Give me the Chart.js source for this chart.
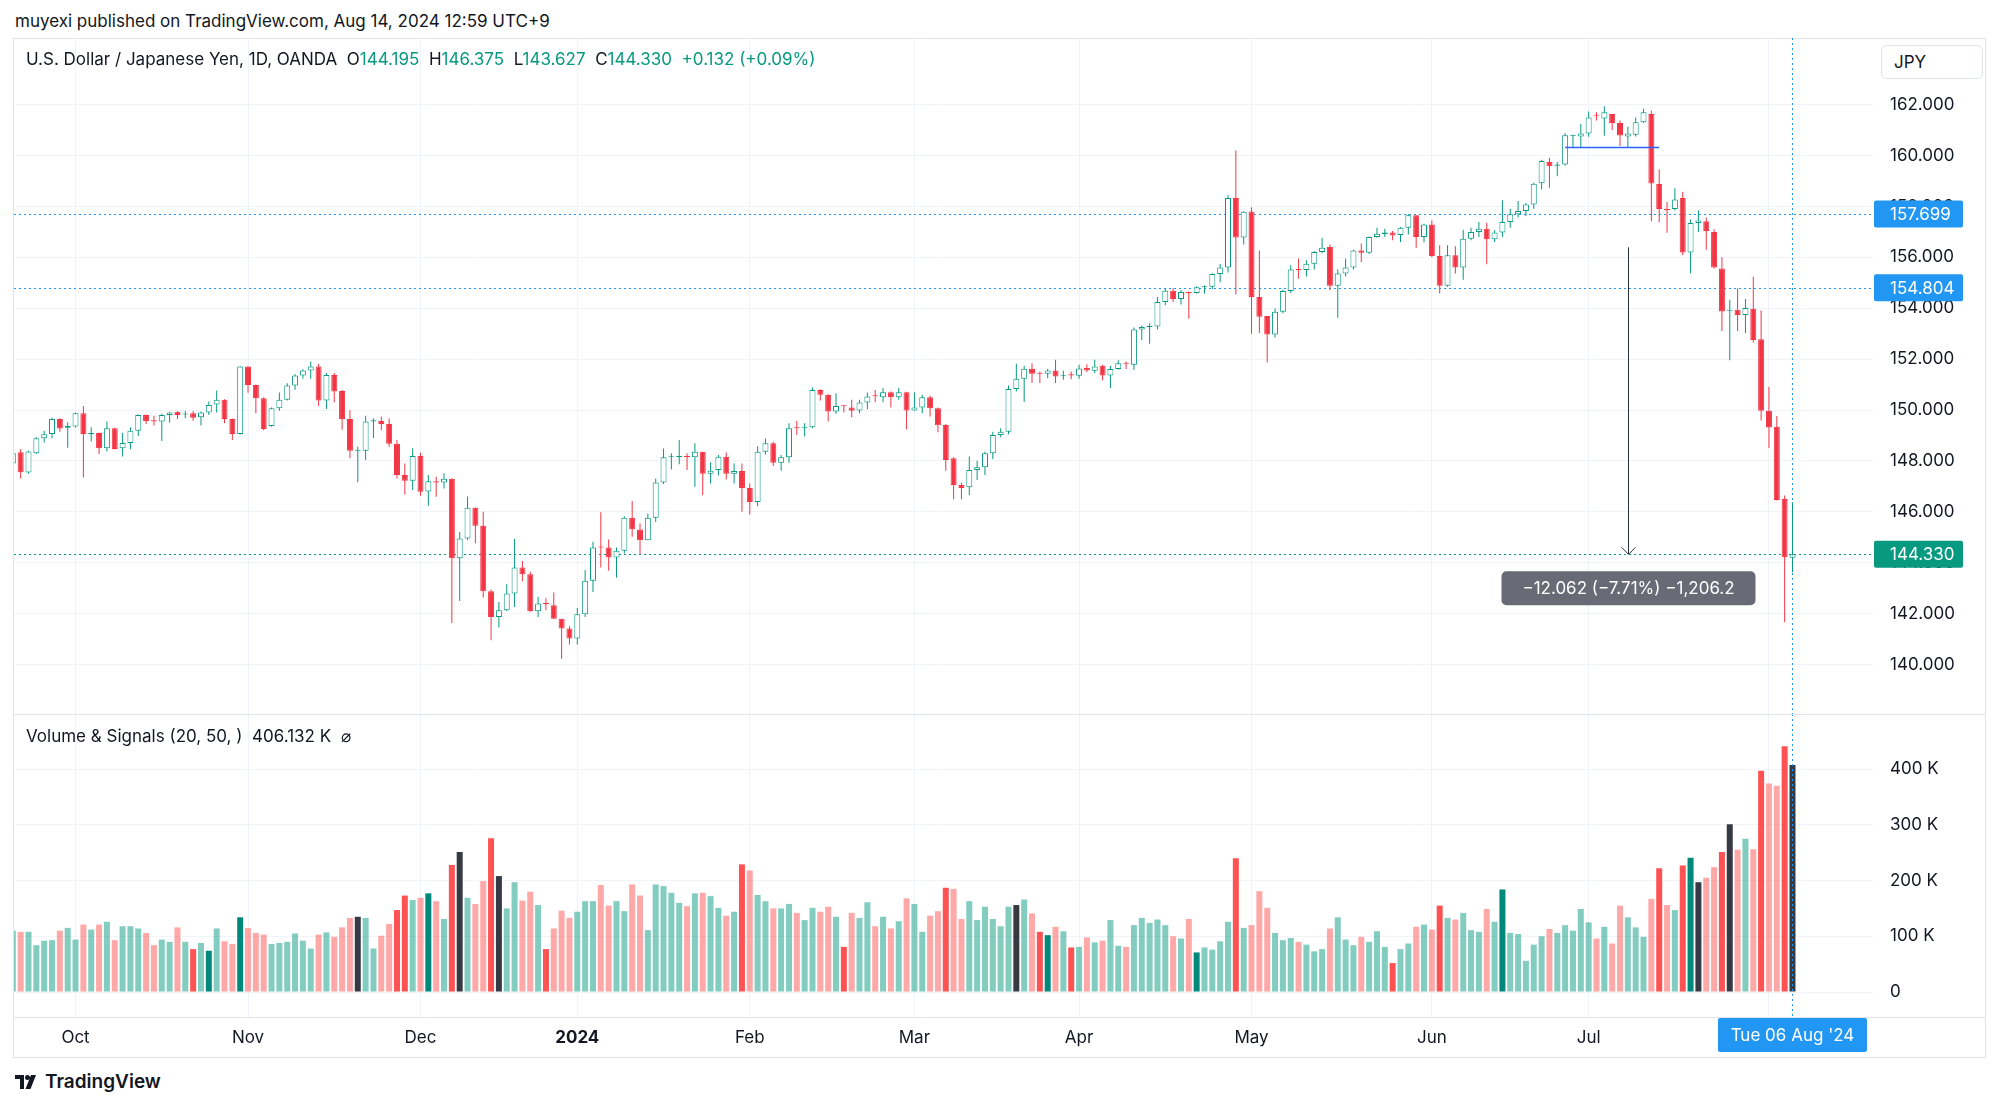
<!DOCTYPE html>
<html>
<head>
<meta charset="utf-8">
<script src="https://cdn.jsdelivr.net/npm/chart.js@4.4.1/dist/chart.umd.min.js"></script>
<style>
  body { margin:0; width:2000px; height:1107px; background:#fff; position:relative; overflow:hidden;
         font-family: Inter, Roboto, sans-serif; color:#131722; }
  .abs { position:absolute; white-space:nowrap; }
  #frame { left:13px; top:38px; width:1973px; height:1020px; border:1px solid #e0e3eb; box-sizing:border-box; }
  .hline { position:absolute; left:14px; width:1971px; height:1px; background:#e0e3eb; }
  #header { left:15px; top:11px; font-size:17px; }
  #legend { left:26px; top:49px; font-size:17px; }
  #legend .v { color:#089981; }
  #volLegend { left:26px; top:726px; font-size:17px; }
  #jpy { left:1881px; top:45px; width:102px; height:34px; border:1px solid #e0e3eb; border-radius:6px;
         box-sizing:border-box; font-size:17px; line-height:32px; padding-left:12px; background:#fff; }
  #logo { left:15px; top:1070px; font-size:19px; font-weight:600; display:flex; align-items:center; gap:6px; }
  canvas { position:absolute; }
</style>
</head>
<body>
<div id="frame" class="abs"></div>
<div class="abs" id="header">muyexi published on TradingView.com, Aug 14, 2024 12:59 UTC+9</div>
<canvas id="price" width="1971" height="676" style="left:14px; top:38px;"></canvas>
<canvas id="volume" width="1971" height="343" style="left:14px; top:714px;"></canvas>
<div class="hline" style="top:714px;"></div>
<div class="hline" style="top:1017px;"></div>
<div class="abs" id="legend">U.S. Dollar / Japanese Yen, 1D, OANDA&nbsp; O<span class="v">144.195</span>&nbsp; H<span class="v">146.375</span>&nbsp; L<span class="v">143.627</span>&nbsp; C<span class="v">144.330</span>&nbsp; <span class="v">+0.132 (+0.09%)</span></div>
<div class="abs" id="jpy">JPY</div>
<div class="abs" id="volLegend">Volume &amp; Signals (20, 50, )&nbsp; 406.132 K&nbsp; ⌀</div>
<div class="abs" id="logo">
  <svg width="24" height="14" viewBox="0 0 24 14"><path d="M0 0h9v14H5V4H0z" fill="#131722"/><circle cx="12.5" cy="2.5" r="2.5" fill="#131722"/><path d="M16 0h5l-5.5 14h-5z" fill="#131722"/></svg>
  <span>TradingView</span>
</div>
<script>
// trading calendar
const firstDay = '2023-09-20';
const lastDay = '2024-08-06';
const holidays = ['2023-12-25', '2024-01-01'];
const monthNames = ['2024', 'Feb', 'Mar', 'Apr', 'May', 'Jun', 'Jul', 'Aug', 'Sep', 'Oct', 'Nov', 'Dec'];

// USD/JPY daily candles (Sep 20 2023 .. Aug 6 2024)
const opens = [
  147.9, 148.34, 147.54, 148.3, 148.89, 149.06, 149.65, 149.3,
  149.35, 149.87, 149.05, 149.1, 148.5, 149.28, 148.5, 148.7, 149.18, 149.8, 149.6, 149.55, 149.8, 149.93, 149.82, 149.87, 149.72, 149.9, 150.22, 150.4, 149.65, 149.06,
  151.71, 150.98, 150.46, 149.37, 150.07, 150.4, 150.96, 151.36, 151.55, 151.71, 150.37, 151.38, 150.75, 149.65, 148.4, 148.4, 149.55, 149.57, 149.45, 148.67, 147.45, 147.22,
  148.19, 146.8, 147.2, 147.15, 147.3, 144.17, 144.95, 146.16, 145.45, 142.88, 141.87, 142.13, 142.79, 143.81, 143.55, 142.09, 142.4, 142.33, 141.8, 141.41,
  141.02, 141.97, 143.29, 144.63, 144.6, 144.2, 144.47, 145.77, 145.3, 144.88, 145.77, 147.15, 148.14, 148.15, 148.18, 148.14, 148.36, 147.5, 147.64, 148.16, 147.5, 147.6,
  146.94, 146.39, 148.36, 148.69, 147.93, 148.14, 149.3, 149.28, 149.32, 150.79, 150.6, 149.94, 150.18, 150.1, 149.98, 150.29, 150.57, 150.5, 150.7, 150.5, 150.7,
  149.98, 150.1, 150.5, 150.07, 149.41, 148.1, 147.05, 146.96, 147.64, 147.75, 148.3, 149.02, 149.15, 150.83, 151.23, 151.62, 151.45, 151.42, 151.55, 151.33, 151.4,
  151.35, 151.65, 151.54, 151.74, 151.36, 151.61, 151.86, 151.78, 153.16, 153.26, 153.28, 154.24, 154.69, 154.36, 154.64, 154.6, 154.82, 154.84, 155.34, 155.6, 158.33, 156.78,
  157.8, 154.44, 153.69, 152.97, 153.86, 154.68, 155.52, 155.5, 155.75, 156.21, 156.4, 154.88, 155.36, 155.6, 156.27, 156.18, 156.8, 156.92, 156.97, 156.88, 157.16, 157.65, 156.8,
  157.29, 156.05, 154.88, 156.08, 155.6, 156.73, 156.99, 157.12, 156.71, 156.97, 157.39, 157.69, 157.82, 158.07, 158.91, 159.74, 159.6, 159.65, 160.78, 160.75,
  160.86, 161.6, 161.45, 161.63, 161.28, 160.75, 160.82, 161.31, 161.63, 158.88, 157.9, 157.9, 158.33, 156.19, 157.35, 157.42, 156.99, 155.56, 153.9, 153.94, 153.73, 153.98, 152.78,
  149.97, 149.34, 146.5, 144.195
];
const highs = [
  148.4, 148.47, 148.4, 148.93, 149.18, 149.7, 149.68, 149.52,
  149.9, 150.16, 149.32, 149.12, 149.55, 149.3, 149.1, 149.32, 149.82, 149.82, 149.77, 149.85, 149.93, 149.95, 149.96, 149.96, 149.94, 150.33, 150.77, 150.42, 149.67, 151.72,
  151.72, 151.0, 150.5, 150.1, 150.69, 151.05, 151.41, 151.6, 151.91, 151.82, 151.45, 151.45, 150.79, 149.99, 148.56, 149.77, 149.68, 149.74, 149.68, 148.82, 147.9, 148.5,
  148.32, 147.45, 147.38, 147.51, 147.32, 145.21, 146.6, 146.17, 146.0, 142.95, 142.46, 143.15, 144.93, 144.07, 143.64, 142.66, 142.6, 142.83, 141.8, 141.5,
  142.22, 143.71, 144.82, 145.98, 144.91, 144.6, 145.83, 146.42, 145.54, 145.93, 147.31, 148.49, 148.3, 148.82, 148.3, 148.69, 148.36, 147.94, 148.23, 148.33, 147.9, 147.9,
  147.11, 148.58, 148.88, 148.75, 148.23, 149.48, 149.57, 149.48, 150.88, 150.82, 150.62, 150.66, 150.2, 150.4, 150.4, 150.69, 150.79, 150.86, 150.73, 150.86, 150.72,
  150.7, 150.6, 150.56, 150.1, 149.45, 148.14, 147.14, 148.17, 148.01, 148.36, 149.15, 149.28, 150.96, 151.82, 151.74, 151.84, 151.51, 151.61, 151.97, 151.54, 151.51,
  151.78, 151.8, 151.97, 151.78, 151.74, 151.95, 151.91, 153.24, 153.32, 153.4, 154.44, 154.79, 154.78, 154.72, 154.66, 154.86, 154.89, 155.37, 155.74, 158.44, 160.2, 157.81,
  157.97, 156.27, 153.69, 153.99, 154.73, 155.69, 155.95, 155.88, 156.25, 156.77, 156.5, 155.52, 155.95, 156.3, 156.54, 156.82, 157.16, 157.12, 157.03, 157.19, 157.69, 157.65, 157.32,
  157.45, 156.47, 156.47, 156.43, 157.08, 157.16, 157.39, 157.36, 157.06, 158.24, 157.91, 158.21, 158.13, 158.93, 159.83, 159.91, 159.74, 160.87, 160.82, 161.24,
  161.73, 161.7, 161.94, 161.63, 161.38, 161.13, 161.49, 161.84, 161.76, 159.46, 158.17, 158.71, 158.58, 157.49, 157.85, 157.56, 157.1, 156.0, 154.33, 154.78, 154.36, 155.24, 153.91,
  150.9, 149.76, 146.64, 146.375
];
const lows = [
  147.8, 147.31, 147.5, 148.27, 148.72, 148.89, 149.15, 148.52,
  149.3, 147.35, 148.76, 148.27, 148.37, 148.45, 148.17, 148.46, 148.98, 149.45, 149.39, 148.78, 149.5, 149.65, 149.68, 149.58, 149.39, 149.8, 149.9, 149.48, 148.82, 149.04,
  150.68, 149.87, 149.2, 149.34, 149.97, 150.37, 150.8, 151.23, 151.23, 150.16, 150.04, 150.3, 149.22, 148.1, 147.16, 148.04, 148.9, 149.2, 148.56, 147.31, 146.68, 146.86,
  146.63, 146.24, 146.59, 146.92, 141.63, 142.5, 144.89, 144.76, 142.63, 140.95, 141.45, 142.09, 142.26, 143.27, 142.07, 141.87, 142.13, 141.8, 140.23, 140.79,
  140.79, 141.87, 142.85, 143.81, 143.68, 143.42, 144.36, 145.02, 144.33, 144.88, 145.6, 147.09, 147.66, 147.87, 147.64, 146.98, 146.65, 147.11, 147.44, 147.27, 147.11, 146.0,
  145.89, 146.22, 148.25, 147.8, 147.61, 147.93, 149.02, 148.96, 149.28, 150.37, 149.55, 149.85, 149.9, 149.72, 149.87, 150.03, 150.3, 150.3, 150.1, 150.4, 149.24,
  149.97, 149.87, 149.74, 149.13, 147.61, 146.49, 146.49, 146.66, 147.25, 147.45, 148.06, 148.93, 149.05, 150.73, 150.31, 151.06, 151.06, 151.25, 151.06, 151.19, 151.21,
  151.23, 151.49, 151.45, 151.16, 150.86, 151.58, 151.61, 151.57, 152.75, 152.6, 153.16, 154.12, 154.24, 154.15, 153.59, 154.58, 154.58, 154.75, 155.02, 155.4, 154.54, 156.5,
  153.0, 153.03, 151.87, 152.85, 153.8, 154.6, 155.16, 155.25, 155.52, 156.17, 154.71, 153.62, 155.25, 155.52, 155.82, 156.14, 156.77, 156.8, 156.67, 156.6, 156.9, 156.37, 156.58,
  156.0, 154.58, 154.84, 155.36, 155.12, 156.67, 156.8, 155.73, 156.6, 156.8, 157.16, 157.56, 157.62, 157.91, 158.67, 158.73, 159.18, 159.6, 160.33, 160.3,
  160.74, 161.38, 160.78, 161.0, 160.37, 160.33, 160.75, 161.28, 157.42, 157.38, 156.96, 157.84, 156.09, 155.37, 156.99, 156.3, 155.56, 153.1, 151.95, 153.1, 153.03, 152.65, 149.59,
  148.51, 146.44, 141.66, 143.627
];
const closes = [
  148.3, 147.55, 148.37, 148.89, 149.05, 149.65, 149.27, 149.37,
  149.87, 149.06, 149.1, 148.5, 149.28, 148.47, 148.7, 149.18, 149.8, 149.57, 149.55, 149.8, 149.9, 149.8, 149.85, 149.7, 149.9, 150.2, 150.4, 149.65, 149.06, 151.71,
  150.98, 150.46, 149.25, 150.07, 150.4, 150.96, 151.36, 151.55, 151.71, 150.37, 151.38, 150.73, 149.65, 148.4, 148.43, 149.55, 149.6, 149.45, 148.67, 147.45, 147.22, 148.19,
  146.79, 147.2, 147.15, 147.3, 144.17, 144.95, 146.16, 145.45, 142.88, 141.87, 142.13, 142.79, 143.81, 143.55, 142.09, 142.4, 142.38, 141.8, 141.41, 141.02,
  141.97, 143.29, 144.6, 144.6, 144.2, 144.47, 145.77, 145.31, 144.88, 145.77, 147.15, 148.14, 148.17, 148.19, 148.15, 148.36, 147.5, 147.61, 148.16, 147.5, 147.6, 146.94,
  146.39, 148.36, 148.69, 147.93, 148.14, 149.28, 149.28, 149.32, 150.79, 150.6, 149.94, 150.16, 150.15, 149.97, 150.29, 150.53, 150.54, 150.7, 150.5, 150.7, 149.98,
  150.1, 150.5, 150.07, 149.4, 148.04, 147.05, 146.94, 147.64, 147.75, 148.3, 149.02, 149.15, 150.83, 151.23, 151.62, 151.42, 151.42, 151.55, 151.32, 151.37, 151.36,
  151.63, 151.55, 151.71, 151.36, 151.61, 151.84, 151.82, 153.16, 153.26, 153.28, 154.24, 154.69, 154.36, 154.64, 154.6, 154.82, 154.84, 155.34, 155.6, 158.33, 156.78, 157.79,
  154.44, 153.66, 152.97, 153.86, 154.68, 155.52, 155.5, 155.75, 156.21, 156.38, 154.88, 155.36, 155.6, 156.27, 156.18, 156.8, 156.93, 156.97, 156.86, 157.16, 157.65, 156.8, 157.29,
  156.05, 154.88, 156.08, 155.6, 156.73, 156.99, 157.12, 156.71, 156.97, 157.39, 157.69, 157.82, 158.07, 158.89, 159.78, 159.58, 159.65, 160.8, 160.8, 160.86,
  161.49, 161.56, 161.7, 161.28, 160.79, 160.86, 161.31, 161.7, 158.9, 157.9, 157.85, 158.27, 156.19, 157.35, 157.45, 157.03, 155.6, 153.87, 153.91, 153.73, 154.01, 152.75, 149.97,
  149.31, 146.46, 144.21, 144.33
];
// volume in thousands
const volumes = [
  110, 108, 108, 84, 92, 93, 110, 115,
  94, 121, 112, 121, 126, 93, 118, 118, 114, 106, 84, 94, 90, 116, 90, 77, 88, 74, 114, 91, 86, 134,
  115, 106, 103, 86, 88, 90, 105, 92, 78, 103, 107, 99, 116, 133, 135, 133, 78, 101, 122, 147, 173, 165,
  169, 177, 163, 131, 228, 251, 169, 158, 199, 276, 208, 150, 197, 164, 180, 156, 77, 114, 146, 133,
  144, 163, 163, 192, 155, 163, 145, 193, 173, 111, 193, 190, 178, 160, 154, 177, 178, 172, 151, 137, 144, 229,
  218, 174, 163, 150, 150, 158, 142, 129, 151, 144, 153, 135, 81, 142, 133, 161, 118, 135, 114, 127, 168,
  158, 108, 137, 145, 187, 185, 131, 163, 129, 153, 131, 118, 153, 156, 166, 141, 108, 102, 117, 109, 80,
  81, 98, 89, 92, 129, 83, 81, 120, 133, 124, 130, 120, 100, 96, 131, 71, 80, 76, 91, 126, 240, 115,
  120, 181, 151, 106, 93, 97, 90, 85, 73, 77, 114, 134, 94, 84, 99, 90, 109, 81, 52, 77, 87, 117, 121,
  112, 155, 133, 130, 142, 111, 108, 149, 126, 184, 106, 104, 56, 85, 100, 113, 106, 120, 110, 149,
  125, 96, 117, 87, 155, 134, 116, 99, 167, 222, 156, 147, 227, 241, 197, 205, 224, 251, 301, 255, 275, 256, 397,
  374, 370, 441, 407
];
// volume signal days
const strongDays = ['2023-10-23', '2023-10-25', '2023-10-31', '2023-11-28', '2023-11-29', '2023-12-04',
  '2023-12-07', '2023-12-14', '2023-12-26', '2024-01-31', '2024-02-19', '2024-03-07', '2024-03-25',
  '2024-03-26', '2024-03-29', '2024-04-22', '2024-04-29', '2024-05-27', '2024-06-04', '2024-06-14',
  '2024-07-12', '2024-07-17', '2024-07-18', '2024-07-24', '2024-07-31', '2024-08-05'];
const markedDays = ['2023-11-21', '2023-12-08', '2023-12-15', '2024-03-20', '2024-07-19', '2024-07-25', '2024-08-06'];

const priceTicks = [140, 142, 144, 146, 148, 150, 152, 154, 156, 158, 160, 162];
const volumeTicks = [0, 100, 200, 300, 400];
const lastClose = 144.330;
const levels = [157.699, 154.804];
const rangeLine = { from: '2024-06-26', to: '2024-07-12', price: 160.33 };
const measure = { day: '2024-07-08', from: 156.392, text: '\u221212.062 (\u22127.71%) \u22121,206.2' };

const UP = '#089981', DOWN = '#f23645', BLUE = '#2196f3';
const FONT = 'Inter, Roboto, sans-serif';

function tradingDays(from, to) {
  const out = [];
  const d = new Date(from + 'T00:00:00Z');
  const end = new Date(to + 'T00:00:00Z');
  while (d <= end) {
    const wd = d.getUTCDay();
    const iso = d.toISOString().slice(0, 10);
    if (wd !== 0 && wd !== 6 && !holidays.includes(iso)) out.push(iso);
    d.setUTCDate(d.getUTCDate() + 1);
  }
  return out;
}

const dates = tradingDays(firstDay, lastDay);
const lastIdx = dates.length - 1;
const monthStarts = [];
dates.forEach((d, i) => {
  if (i > 0 && d.slice(5, 7) !== dates[i - 1].slice(5, 7)) monthStarts.push(i);
});
const monthLabel = i => monthNames[parseInt(dates[i].slice(5, 7)) - 1];

const isUp = i => closes[i] >= opens[i];
const xMin = 0.15, xMax = 237.27;

const xAxis = (showLabels) => ({
  type: 'linear', min: xMin, max: xMax, offset: false,
  grid: { color: '#f0f3fa', drawTicks: false, offset: false },
  border: { display: false },
  afterBuildTicks: s => { s.ticks = monthStarts.map(v => ({ value: v })); },
  ticks: {
    display: showLabels, autoSkip: false, maxRotation: 0, padding: 11, color: '#131722',
    font: c => ({ family: FONT, size: 17, weight: c.tick && c.tick.label === '2024' ? 'bold' : 'normal' }),
    callback: v => monthLabel(v)
  },
  afterFit: s => { s.height = showLabels ? 40 : 0; s.paddingLeft = 0; s.paddingRight = 0; }
});

// right-hand value axis that fills the whole pane height
const valueAxis = (min, max, ticks, fmt) => ({
  position: 'right', min, max,
  grid: { color: '#f0f3fa', drawTicks: false },
  border: { display: false },
  afterBuildTicks: s => { s.ticks = ticks.map(v => ({ value: v })); },
  ticks: { padding: 17, color: '#131722', font: { family: FONT, size: 17 }, callback: fmt },
  afterFit: s => { s.width = 112; s.paddingTop = 0; s.paddingBottom = 0; }
});

function roundRect(ctx, x, y, w, h, r) {
  ctx.beginPath();
  ctx.moveTo(x + r, y);
  ctx.arcTo(x + w, y, x + w, y + h, r);
  ctx.arcTo(x + w, y + h, x, y + h, r);
  ctx.arcTo(x, y + h, x, y, r);
  ctx.arcTo(x, y, x + w, y, r);
  ctx.closePath();
}

const priceMarks = {
  id: 'priceMarks',
  beforeDatasetsDraw(chart) {
    const { ctx, chartArea: a, scales: { x, y } } = chart;
    ctx.save();
    ctx.lineWidth = 1;
    ctx.setLineDash([2, 3]);
    const hLine = (p, color) => {
      const py = Math.round(y.getPixelForValue(p)) + 0.5;
      ctx.strokeStyle = color;
      ctx.beginPath(); ctx.moveTo(a.left, py); ctx.lineTo(a.right, py); ctx.stroke();
    };
    levels.forEach(p => hLine(p, BLUE));
    hLine(lastClose, UP);
    const cx = Math.round(x.getPixelForValue(lastIdx)) + 0.5;
    ctx.strokeStyle = BLUE;
    ctx.beginPath(); ctx.moveTo(cx, a.top); ctx.lineTo(cx, a.bottom); ctx.stroke();
    ctx.restore();
  },
  afterDatasetsDraw(chart) {
    const { ctx, scales: { x, y } } = chart;
    ctx.save();
    // range line
    const ry = Math.round(y.getPixelForValue(rangeLine.price)) + 0.5;
    ctx.strokeStyle = '#2962ff';
    ctx.lineWidth = 1.5;
    ctx.beginPath();
    ctx.moveTo(x.getPixelForValue(dates.indexOf(rangeLine.from)), ry);
    ctx.lineTo(x.getPixelForValue(dates.indexOf(rangeLine.to)), ry);
    ctx.stroke();
    // measure arrow
    const mx = Math.round(x.getPixelForValue(dates.indexOf(measure.day))) + 0.5;
    const y1 = y.getPixelForValue(measure.from), y2 = y.getPixelForValue(lastClose);
    ctx.strokeStyle = '#2a2e39';
    ctx.lineWidth = 1;
    ctx.beginPath(); ctx.moveTo(mx, y1); ctx.lineTo(mx, y2); ctx.stroke();
    ctx.beginPath(); ctx.moveTo(mx - 7, y2 - 7); ctx.lineTo(mx, y2); ctx.lineTo(mx + 7, y2 - 7); ctx.stroke();
    ctx.fillStyle = 'rgba(96,99,110,0.95)';
    roundRect(ctx, mx - 127, y2 + 17, 254, 34, 5);
    ctx.fill();
    ctx.fillStyle = '#fff';
    ctx.font = '17px ' + FONT;
    ctx.textAlign = 'center';
    ctx.textBaseline = 'middle';
    ctx.fillText(measure.text, mx, y2 + 34.5);
    ctx.restore();
  },
  afterDraw(chart) {
    const { ctx, chartArea: a, scales: { y } } = chart;
    ctx.save();
    ctx.font = '17px ' + FONT;
    ctx.textBaseline = 'middle';
    ctx.textAlign = 'left';
    const tag = (p, color) => {
      const py = y.getPixelForValue(p);
      ctx.fillStyle = color;
      roundRect(ctx, a.right + 1, py - 13.5, 89, 27, 2);
      ctx.fill();
      ctx.fillStyle = '#fff';
      ctx.fillText(p.toFixed(3), a.right + 17, py + 1);
    };
    levels.forEach(p => tag(p, BLUE));
    tag(lastClose, UP);
    ctx.restore();
  }
};

const volumeMarks = {
  id: 'volumeMarks',
  afterDatasetsDraw(chart) {
    const { ctx, chartArea: a, scales: { x } } = chart;
    const cx = Math.round(x.getPixelForValue(lastIdx)) + 0.5;
    ctx.save();
    ctx.strokeStyle = BLUE;
    ctx.lineWidth = 1;
    ctx.setLineDash([2, 3]);
    ctx.beginPath(); ctx.moveTo(cx, 0); ctx.lineTo(cx, a.bottom); ctx.stroke();
    ctx.restore();
  },
  afterDraw(chart) {
    const { ctx, chartArea: a, scales: { x } } = chart;
    const cx = x.getPixelForValue(lastIdx);
    const d = new Date(lastDay + 'T00:00:00Z');
    const wd = ['Sun', 'Mon', 'Tue', 'Wed', 'Thu', 'Fri', 'Sat'][d.getUTCDay()];
    const mon = ['Jan', 'Feb', 'Mar', 'Apr', 'May', 'Jun', 'Jul', 'Aug', 'Sep', 'Oct', 'Nov', 'Dec'][d.getUTCMonth()];
    const label = wd + ' ' + lastDay.slice(8, 10) + ' ' + mon + " '" + lastDay.slice(2, 4);
    ctx.save();
    ctx.fillStyle = BLUE;
    roundRect(ctx, cx - 74.5, a.bottom + 1, 149, 34, 2);
    ctx.fill();
    ctx.fillStyle = '#fff';
    ctx.font = '17px ' + FONT;
    ctx.textAlign = 'center';
    ctx.textBaseline = 'middle';
    ctx.fillText(label, cx, a.bottom + 19);
    ctx.restore();
  }
};

new Chart(document.getElementById('price'), {
  type: 'bar',
  data: {
    datasets: [
      {
        label: 'wick',
        data: dates.map((d, i) => ({ x: i, y: [lows[i], highs[i]] })),
        backgroundColor: dates.map((d, i) => isUp(i) ? UP : DOWN),
        barThickness: 1, grouped: false, order: 2, inflateAmount: 0
      },
      {
        label: 'body',
        data: dates.map((d, i) => ({ x: i, y: [opens[i], closes[i]] })),
        backgroundColor: dates.map((d, i) => isUp(i) ? '#ffffff' : DOWN),
        borderColor: dates.map((d, i) => isUp(i) ? UP : DOWN),
        borderWidth: 1, borderSkipped: false, minBarLength: 1,
        barThickness: 6, grouped: false, order: 1, inflateAmount: 0
      }
    ]
  },
  options: {
    responsive: false, animation: false, events: [],
    layout: { padding: 0 },
    plugins: { legend: { display: false }, tooltip: { enabled: false } },
    scales: {
      x: xAxis(false),
      y: valueAxis(138.055, 164.617, priceTicks, v => v.toFixed(3))
    }
  },
  plugins: [priceMarks]
});

new Chart(document.getElementById('volume'), {
  type: 'bar',
  data: {
    datasets: [{
      label: 'volume',
      data: dates.map((d, i) => ({ x: i, y: volumes[i] })),
      backgroundColor: dates.map((d, i) => {
        if (markedDays.includes(d)) return '#363a45';
        if (strongDays.includes(d)) return isUp(i) ? '#00897b' : '#ff5252';
        return isUp(i) ? 'rgba(8,153,129,0.5)' : 'rgba(255,82,82,0.5)';
      }),
      barThickness: 6, grouped: false, inflateAmount: 0
    }]
  },
  options: {
    responsive: false, animation: false, events: [],
    layout: { padding: 0 },
    plugins: { legend: { display: false }, tooltip: { enabled: false } },
    scales: {
      x: xAxis(true),
      y: valueAxis(-44.8, 498.7, volumeTicks, v => v === 0 ? '0' : v + ' K')
    }
  },
  plugins: [volumeMarks]
});
</script>
</body>
</html>
